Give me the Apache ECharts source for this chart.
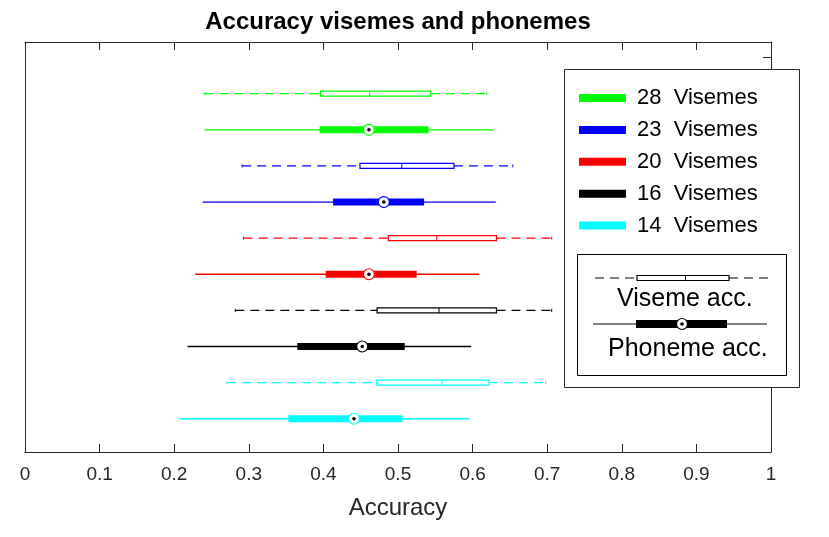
<!DOCTYPE html>
<html>
<head>
<meta charset="utf-8">
<title>Accuracy visemes and phonemes</title>
<script src="https://cdn.jsdelivr.net/npm/echarts@6/dist/echarts.min.js"></script>
<style>
  html, body { margin: 0; padding: 0; background: #fff; }
  #chart { width: 829px; height: 537px; }
</style>
</head>
<body>
<div id="chart"></div>
<script>
// groups, top to bottom (same order as the legend)
var categories = ['28  Visemes', '23  Visemes', '20  Visemes', '16  Visemes', '14  Visemes'];
var colors = ['#00ff00', '#0000ff', '#ff0000', '#000000', '#00ffff'];

// box stats per group: [min, q1, median, q3, max]
var visemeAcc = [
  [0.241, 0.396, 0.462, 0.544, 0.619],
  [0.291, 0.449, 0.505, 0.575, 0.654],
  [0.293, 0.487, 0.552, 0.632, 0.706],
  [0.282, 0.472, 0.555, 0.632, 0.706],
  [0.271, 0.471, 0.559, 0.622, 0.698]
];
var phonemeAcc = [
  [0.241, 0.395, 0.461, 0.541, 0.628],
  [0.238, 0.413, 0.481, 0.535, 0.631],
  [0.228, 0.403, 0.461, 0.525, 0.609],
  [0.218, 0.365, 0.452, 0.509, 0.598],
  [0.207, 0.353, 0.441, 0.506, 0.595]
];

var FONT = "'Liberation Sans', Arial, sans-serif";
var AXIS_COLOR = '#262626';

// draws one horizontal box: kind 0 = viseme (dashed, open box), 1 = phoneme (filled, circle median)
function renderBox(params, api) {
  var row = api.value(0);
  var kind = api.value(6);
  var color = api.visual('color');
  var pMin = api.coord([api.value(1), row]);
  var pQ1 = api.coord([api.value(2), row]);
  var pMed = api.coord([api.value(3), row]);
  var pQ3 = api.coord([api.value(4), row]);
  var pMax = api.coord([api.value(5), row]);
  var y = pMin[1];
  var kids = [];
  if (kind === 0) {
    var dash = { stroke: color, lineWidth: 1.3, lineDash: [9, 6] };
    kids.push(
      { type: 'line', shape: { x1: pMin[0], y1: y, x2: pQ1[0], y2: y }, style: dash },
      { type: 'line', shape: { x1: pQ3[0], y1: y, x2: pMax[0], y2: y }, style: dash },
      { type: 'line', shape: { x1: pMin[0], y1: y - 1.5, x2: pMin[0], y2: y + 1.5 }, style: { stroke: color, lineWidth: 1 } },
      { type: 'line', shape: { x1: pMax[0], y1: y - 1.5, x2: pMax[0], y2: y + 1.5 }, style: { stroke: color, lineWidth: 1 } },
      { type: 'rect', shape: { x: pQ1[0], y: y - 2.5, width: pQ3[0] - pQ1[0], height: 5 },
        style: { fill: '#fff', stroke: color, lineWidth: 1.2 } },
      { type: 'line', shape: { x1: pMed[0], y1: y - 2.5, x2: pMed[0], y2: y + 2.5 }, style: { stroke: color, lineWidth: 1 } }
    );
  } else {
    kids.push(
      { type: 'line', shape: { x1: pMin[0], y1: y, x2: pMax[0], y2: y }, style: { stroke: color, lineWidth: 1.3 } },
      { type: 'rect', shape: { x: pQ1[0], y: y - 3.5, width: pQ3[0] - pQ1[0], height: 7 }, style: { fill: color } },
      { type: 'circle', shape: { cx: pMed[0], cy: y, r: 5.5 }, style: { fill: '#fff', stroke: color, lineWidth: 1.2 } },
      { type: 'circle', shape: { cx: pMed[0], cy: y, r: 1.8 }, style: { fill: '#000' } }
    );
  }
  return { type: 'group', children: kids };
}

var series = categories.map(function (name, k) {
  return {
    type: 'custom',
    name: name,
    itemStyle: { color: colors[k] },
    renderItem: renderBox,
    encode: { x: [1, 2, 3, 4, 5], y: 0 },
    data: [
      [2 * k].concat(visemeAcc[k], [0]),
      [2 * k + 1].concat(phonemeAcc[k], [1])
    ]
  };
});

var chart = echarts.init(document.getElementById('chart'));

var frameLine = { show: true, onZero: false, lineStyle: { color: AXIS_COLOR, width: 1 } };

var option = {
  backgroundColor: '#fff',
  animation: false,
  title: {
    text: 'Accuracy visemes and phonemes',
    left: 398, top: 10, textAlign: 'center', padding: 0,
    textStyle: { fontSize: 24, fontWeight: 'bold', color: '#000', fontFamily: FONT }
  },
  grid: { left: 25, right: 58, top: 42, bottom: 85 },
  xAxis: [{
    type: 'value', min: 0, max: 1, interval: 0.1, position: 'bottom',
    name: 'Accuracy', nameLocation: 'middle', nameGap: 44,
    nameTextStyle: { fontSize: 24, color: AXIS_COLOR, fontFamily: FONT },
    axisLine: frameLine,
    axisTick: { show: true, inside: true, length: 8, lineStyle: { color: AXIS_COLOR } },
    axisLabel: { fontSize: 19, color: AXIS_COLOR, margin: 13, fontFamily: FONT },
    splitLine: { show: false }
  }, {
    type: 'value', min: 0, max: 1, interval: 0.1, position: 'top',
    axisLine: frameLine,
    axisTick: { show: true, inside: true, length: 8, lineStyle: { color: AXIS_COLOR } },
    axisLabel: { show: false },
    splitLine: { show: false }
  }],
  yAxis: [{
    type: 'value', inverse: true, min: -1.43, max: 9.92, position: 'left',
    axisLine: frameLine,
    axisTick: { show: false }, axisLabel: { show: false }, splitLine: { show: false }
  }, {
    type: 'value', inverse: true, min: -1.43, max: 9.92, position: 'right',
    axisLine: frameLine,
    axisTick: { show: true, inside: true, length: 8, customValues: [-1], lineStyle: { color: AXIS_COLOR } },
    axisLabel: { show: false }, splitLine: { show: false }
  }],
  legend: {
    data: categories,
    orient: 'vertical', left: 579, top: 87, padding: 0,
    icon: 'rect', itemWidth: 47, itemHeight: 8, itemGap: 9.9,
    selectedMode: false, z: 20,
    textStyle: { fontSize: 22, color: '#000', fontFamily: FONT, padding: [0, 0, 0, 6] }
  },
  graphic: [
    // outer legend frame
    { type: 'rect', z: 10, shape: { x: 564.5, y: 69.5, width: 235, height: 318 },
      style: { fill: '#fff', stroke: AXIS_COLOR, lineWidth: 1 } },
    // inner box explaining the two box styles
    { type: 'rect', z: 11, shape: { x: 577.5, y: 254.5, width: 209, height: 121 },
      style: { fill: '#fff', stroke: '#000', lineWidth: 1 } },
    { type: 'line', z: 12, shape: { x1: 595, y1: 278, x2: 637, y2: 278 }, style: { stroke: '#000', lineWidth: 1, lineDash: [9, 6] } },
    { type: 'line', z: 12, shape: { x1: 729, y1: 278, x2: 771, y2: 278 }, style: { stroke: '#000', lineWidth: 1, lineDash: [9, 6] } },
    { type: 'rect', z: 12, shape: { x: 637, y: 275.5, width: 92, height: 5 }, style: { fill: '#fff', stroke: '#000', lineWidth: 1.2 } },
    { type: 'line', z: 12, shape: { x1: 685.5, y1: 275.5, x2: 685.5, y2: 280.5 }, style: { stroke: '#000', lineWidth: 1 } },
    { type: 'text', z: 12, x: 617, y: 299,
      style: { text: 'Viseme acc.', fontSize: 25, fontFamily: FONT, fill: '#000', verticalAlign: 'middle' } },
    { type: 'line', z: 12, shape: { x1: 593, y1: 324, x2: 767, y2: 324 }, style: { stroke: '#000', lineWidth: 1 } },
    { type: 'rect', z: 12, shape: { x: 636, y: 320, width: 91, height: 8 }, style: { fill: '#000' } },
    { type: 'circle', z: 13, shape: { cx: 682, cy: 324, r: 5.5 }, style: { fill: '#fff', stroke: '#000', lineWidth: 1.2 } },
    { type: 'circle', z: 13, shape: { cx: 682, cy: 324, r: 1.8 }, style: { fill: '#000' } },
    { type: 'text', z: 12, x: 608, y: 349,
      style: { text: 'Phoneme acc.', fontSize: 25, fontFamily: FONT, fill: '#000', verticalAlign: 'middle' } }
  ],
  series: series
};

chart.setOption(option);
</script>
</body>
</html>
